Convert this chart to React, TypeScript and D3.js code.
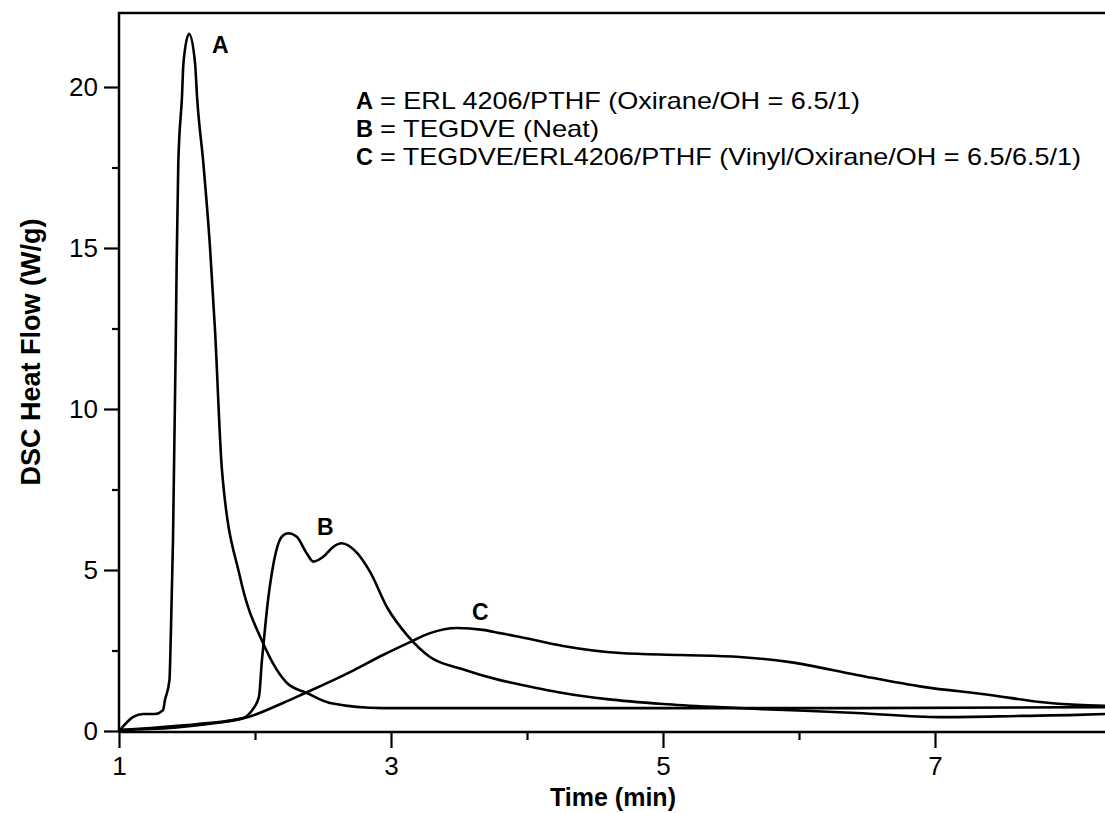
import React, { useEffect, useRef } from 'react';
import * as d3 from 'd3';

// DSC traces (time in min, heat flow in W/g)
const curveA: [number, number][] = [
  [1.007, 0.03], [1.105, 0.44], [1.179, 0.53], [1.265, 0.53], [1.324, 0.65], [1.338, 0.96],
  [1.371, 1.58], [1.382, 3.14], [1.397, 5.93], [1.417, 11.93], [1.424, 14.53], [1.436, 17.64],
  [1.463, 19.69], [1.474, 20.75], [1.515, 21.65], [1.559, 20.75], [1.574, 19.69], [1.62, 17.64],
  [1.669, 15.03], [1.706, 12.45], [1.757, 8.11], [1.89, 4.78], [2.059, 2.73], [2.235, 1.49],
  [2.382, 1.18], [2.551, 0.87], [2.941, 0.71], [3.434, 0.71], [4.54, 0.71], [6.01, 0.71], [8.25, 0.74]
];

const curveB: [number, number][] = [
  [1.007, 0.03], [1.228, 0.09], [1.596, 0.22], [1.912, 0.4], [1.949, 0.5], [1.985, 0.68],
  [2.029, 1.06], [2.051, 2.2], [2.074, 3.2], [2.096, 4.07], [2.125, 4.94], [2.154, 5.56],
  [2.196, 6.03], [2.245, 6.14], [2.307, 6.03], [2.38, 5.52], [2.429, 5.26], [2.502, 5.41],
  [2.576, 5.72], [2.637, 5.83], [2.75, 5.53], [2.846, 4.94], [2.974, 3.82], [3.118, 2.98],
  [3.287, 2.3], [3.515, 1.93], [3.801, 1.58], [3.897, 1.49], [4.265, 1.18], [4.588, 0.99],
  [5.0, 0.84], [5.368, 0.75], [5.735, 0.68], [6.426, 0.56], [7.037, 0.43], [7.647, 0.47],
  [8.044, 0.5], [8.25, 0.53]
];

const curveC: [number, number][] = [
  [1.007, 0.03], [1.228, 0.06], [1.596, 0.19], [1.963, 0.45], [2.206, 0.87], [2.353, 1.15],
  [2.699, 1.83], [2.941, 2.36], [3.14, 2.76], [3.287, 3.04], [3.485, 3.2], [3.676, 3.14],
  [3.801, 3.04], [3.949, 2.92], [4.265, 2.64], [4.684, 2.42], [5.125, 2.36], [5.566, 2.3],
  [5.934, 2.14], [6.426, 1.74], [6.912, 1.37], [7.404, 1.12], [7.772, 0.9], [8.044, 0.81],
  [8.25, 0.78]
];

const series = [curveA, curveB, curveC];

const curveLabels = [
  { name: 'A', x: 1.684, y: 21.06 },
  { name: 'B', x: 2.456, y: 6.09 },
  { name: 'C', x: 3.596, y: 3.45 }
];

const xMajor = [1, 3, 5, 7];
const xMinor = [2, 4, 6];
const yMajor = [0, 5, 10, 15, 20];
const yMinor = [2.5, 7.5, 12.5, 17.5];

const legendKeys = ['A', 'B', 'C'];
const legendTexts = [
  '= ERL 4206/PTHF (Oxirane/OH = 6.5/1)',
  '= TEGDVE (Neat)',
  '= TEGDVE/ERL4206/PTHF (Vinyl/Oxirane/OH = 6.5/6.5/1)'
];
const legendWidths = [480, 219, 701];

const FONT = '"Liberation Sans", Arial, sans-serif';

export default function App() {
  const ref = useRef<SVGSVGElement>(null);

  useEffect(() => {
    const svg = d3.select(ref.current);
    svg.selectAll('*').remove();

    const left = 119, top = 13, right = 1105, bottom = 731;

    const x = d3.scaleLinear().domain([1, 1 + (right - left) / 136]).range([left, right]);
    const y = d3.scaleLinear().domain([0, (bottom - top) / 32.2]).range([bottom, top]);

    // axes
    const yAx = svg.append('g').attr('transform', `translate(${left},0)`)
      .call(d3.axisLeft(y).tickValues(yMajor).tickSize(15).tickPadding(6).tickFormat(d3.format('d')));
    svg.append('g').attr('transform', `translate(${left},0)`)
      .call(d3.axisLeft(y).tickValues(yMinor).tickSize(7).tickFormat(() => ''));
    const xAx = svg.append('g').attr('transform', `translate(0,${bottom + 1})`)
      .call(d3.axisBottom(x).tickValues(xMajor).tickSize(16).tickPadding(9).tickFormat(d3.format('d')));
    svg.append('g').attr('transform', `translate(0,${bottom + 1})`)
      .call(d3.axisBottom(x).tickValues(xMinor).tickSize(8).tickFormat(() => ''));

    svg.selectAll('.domain').remove();
    svg.selectAll('.tick line').attr('stroke', '#000').attr('stroke-width', 2.2);
    [yAx, xAx].forEach(a => a.selectAll('text')
      .attr('font-family', FONT).attr('font-size', 26).attr('fill', '#000'));

    // frame
    svg.append('path')
      .attr('d', `M${left},${bottom + 1}V${top}H${right + 2}M${left},${bottom + 1}H${right + 2}`)
      .attr('fill', 'none').attr('stroke', '#000').attr('stroke-width', 2.5);

    // curves
    const line = d3.line<[number, number]>()
      .x(d => x(d[0])).y(d => y(d[1]))
      .curve(d3.curveMonotoneX);

    svg.append('g').selectAll('path')
      .data(series)
      .join('path')
      .attr('d', d => line(d))
      .attr('fill', 'none')
      .attr('stroke', '#000')
      .attr('stroke-width', 2.6)
      .attr('stroke-linejoin', 'round');

    // curve labels
    svg.append('g').selectAll('text')
      .data(curveLabels)
      .join('text')
      .attr('x', d => x(d.x)).attr('y', d => y(d.y))
      .attr('font-family', FONT).attr('font-size', 23).attr('font-weight', 'bold')
      .text(d => d.name);

    // legend
    const leg = svg.append('g').attr('font-family', FONT).attr('font-size', 24);
    legendKeys.forEach((k, i) => {
      const ly = 108.5 + i * 28.3;
      leg.append('text')
        .attr('x', 356).attr('y', ly)
        .attr('font-weight', 'bold')
        .attr('textLength', 17).attr('lengthAdjust', 'spacingAndGlyphs')
        .text(k);
      leg.append('text')
        .attr('x', 380).attr('y', ly)
        .attr('textLength', legendWidths[i]).attr('lengthAdjust', 'spacingAndGlyphs')
        .text(legendTexts[i]);
    });

    // axis titles
    svg.append('text')
      .attr('x', 613).attr('y', 806)
      .attr('text-anchor', 'middle')
      .attr('font-family', FONT).attr('font-size', 25).attr('font-weight', 'bold')
      .text('Time (min)');

    svg.append('text')
      .attr('transform', 'translate(40,352) rotate(-90)')
      .attr('text-anchor', 'middle')
      .attr('font-family', FONT).attr('font-size', 27).attr('font-weight', 'bold')
      .text('DSC Heat Flow (W/g)');
  }, []);

  return (
    <div style={{ position: 'absolute', left: 0, top: 0, background: '#fff' }}>
      <svg ref={ref} width={1105} height={813} style={{ display: 'block' }}></svg>
    </div>
  );
}
